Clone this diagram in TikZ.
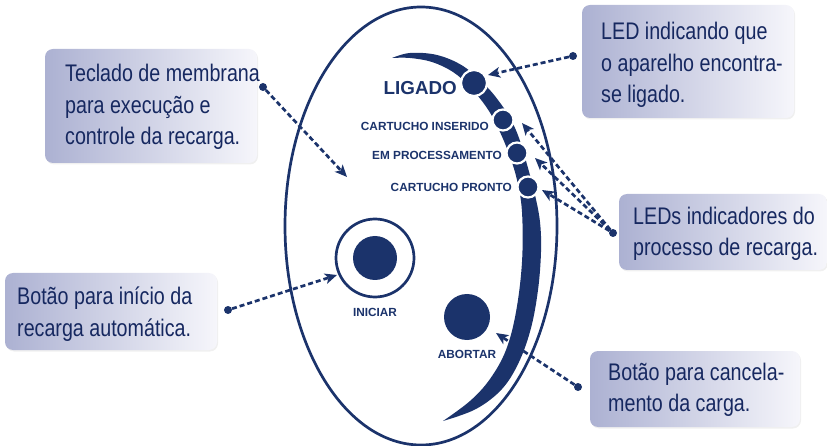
\documentclass[tikz,border=0pt]{standalone}
\usepackage{fontspec}
\setmainfont{Liberation Sans}
\newfontfamily\narrowfont{Liberation Sans}[FakeStretch=0.82]
\newfontfamily\labfont{Liberation Sans}
\usetikzlibrary{arrows.meta,shadows,shapes.geometric}
\definecolor{navy}{RGB}{27,51,107}
\definecolor{textnavy}{RGB}{22,40,96}
\definecolor{boxleft}{RGB}{172,177,210}
\definecolor{boxright}{RGB}{246,246,251}
\tikzset{
  infobox/.style={rectangle, rounded corners=8pt, left color=boxleft, right color=boxright,
    draw=none, inner sep=0pt, drop shadow={opacity=0.12, shadow xshift=1pt, shadow yshift=-1.5pt}},
  txt/.style={align=left, inner sep=0pt, anchor=west, text=textnavy,
    font=\narrowfont\fontsize{24}{31.5}\selectfont},
  lab/.style={inner sep=0pt, text=navy, font=\labfont\bfseries\fontsize{11.8}{13}\selectfont},
  led/.style={circle, fill=navy, draw=white, line width=2.2pt, inner sep=0pt},
  dotnode/.style={circle, fill=navy, inner sep=0pt, minimum size=8pt},
  conn/.style={navy, line width=2.7pt, dash pattern=on 5pt off 3pt,
    -{Stealth[length=12pt,width=10.5pt,inset=3pt]}},
}
\begin{document}
\begin{tikzpicture}[x=1pt,y=-1pt]
\useasboundingbox (0,0) rectangle (827,446);
% keypad outline
\node[ellipse, draw=navy, line width=2.7pt, minimum width=272pt, minimum height=438pt, inner sep=0pt] (pad) at (421,226) {};
% crescent
\fill[navy] plot[smooth, tension=0.6] coordinates {(392,58) (410,53) (437,55) (463,66) (485,85) (498,100) (510,118) (519,138) (528,168) (535,195) (540,222) (541,252) (538,290) (531,328) (519,362) (502,389) (476,409) (443,421)}
  -- plot[smooth, tension=0.6] coordinates {(443,421) (470,401) (490,379) (506,350) (516,312) (522,262) (522,212) (517,180) (509,154) (499,130) (487,108) (470,87) (453,72) (432,62) (410,58) (392,58)} -- cycle;
% LEDs
\node[led, minimum size=26pt] (ledA) at (474,83) {};
\node[led, minimum size=21pt] (ledB) at (503,120) {};
\node[led, minimum size=21pt] (ledC) at (517,153) {};
\node[led, minimum size=21pt] (ledD) at (528,187) {};
% LED labels
\node[lab, anchor=east, font=\labfont\bfseries\fontsize{18.8}{20}\selectfont] (lbA) at (457,88) {LIGADO};
\node[lab, anchor=east] (lbB) at (489,126) {CARTUCHO INSERIDO};
\node[lab, anchor=east] (lbC) at (502,155) {EM PROCESSAMENTO};
\node[lab, anchor=east] (lbD) at (512,187) {CARTUCHO PRONTO};
% buttons
\node[circle, draw=navy, line width=2.7pt, minimum size=78pt, inner sep=0pt] (ring) at (375,258) {};
\node[circle, fill=navy, minimum size=44pt, inner sep=0pt] (start) at (375,258) {};
\node[lab] (lbS) at (375,312) {INICIAR};
\node[circle, fill=navy, minimum size=46pt, inner sep=0pt] (abort) at (467,317) {};
\node[lab] (lbE) at (467,354) {ABORTAR};
% boxes
\node[infobox, minimum width=212pt, minimum height=114pt] (box1) at (151,106) {};
\node[txt] (t1) at (65,107) {Teclado de membrana\\para execução e\\controle da recarga.};
\node[infobox, minimum width=212pt, minimum height=113pt] (box2) at (688,61.5) {};
\node[txt] (t2) at (601,65) {LED indicando que\\o aparelho encontra-\\se ligado.};
\node[infobox, minimum width=208pt, minimum height=76pt] (box3) at (723,232) {};
\node[txt] (t3) at (633,234) {LEDs indicadores do\\processo de recarga.};
\node[infobox, minimum width=212pt, minimum height=77pt] (box4) at (111,311.5) {};
\node[txt] (t4) at (17,314) {Botão para início da\\recarga automática.};
\node[infobox, minimum width=210pt, minimum height=76pt] (box5) at (695,389) {};
\node[txt] (t5) at (608,390) {Botão para cancela-\\mento da carga.};
% connector dots and tips
\node[dotnode] (d1) at (263,87) {};
\node[dotnode] (d2) at (573,56) {};
\node[dotnode] (d3) at (613,233) {};
\node[dotnode] (d4) at (228,310) {};
\node[dotnode] (d5) at (578,387) {};
\coordinate (p1) at (347,177);
\coordinate (pA) at (488,75);
\coordinate (pB) at (522,123);
\coordinate (pC) at (535,158);
\coordinate (pD) at (542,190);
\coordinate (pS) at (337,275);
\coordinate (pE) at (496,333);
\draw[conn] (d1) -- (p1);
\draw[conn] (d2) -- (pA);
\draw[conn] (d3) -- (pB);
\draw[conn] (d3) -- (pC);
\draw[conn] (d3) -- (pD);
\draw[conn] (d4) -- (pS);
\draw[conn] (d5) -- (pE);
\end{tikzpicture}
\end{document}
